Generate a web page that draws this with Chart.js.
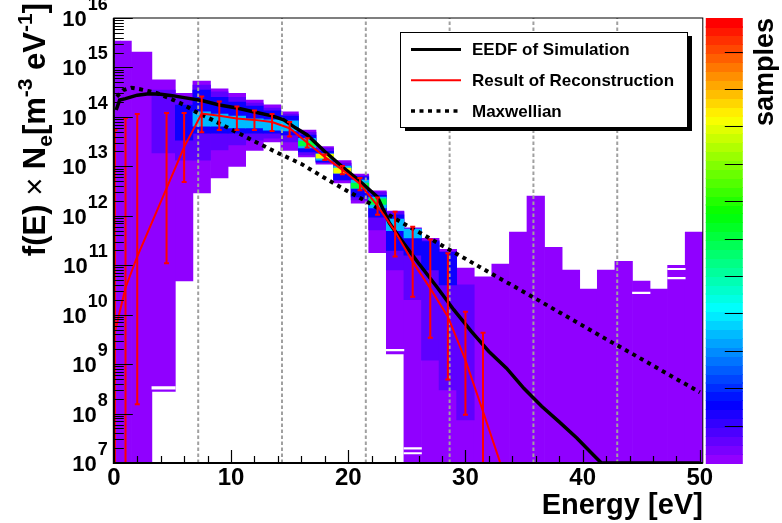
<!DOCTYPE html>
<html>
<head>
<meta charset="utf-8">
<script src="https://cdn.jsdelivr.net/npm/chart.js@4.4.1/dist/chart.umd.min.js"></script>
<style>
  html, body { margin: 0; padding: 0; background: #fff; }
  #wrap { width: 782px; height: 523px; }
</style>
</head>
<body>
<div id="wrap"><canvas id="eedfChart" width="782" height="523"></canvas></div>
<script>
// 2D histogram of the sampled reconstructions: column centres in eV
const columnE = [0.1, 1.0, 2.0, 4.5, 6.0, 7.5, 9.0, 10.5, 12.0, 13.5, 15.0, 16.5, 18.0, 19.5, 21.0, 22.5, 24.0,
  25.5, 27.0, 28.5, 30.0, 31.5, 33.0, 34.5, 36.0, 37.5, 39.0, 40.5, 42.0, 43.5, 45.0, 46.5, 48.0, 49.5];
const columnTop = [3.4e15, 3.4e15, 2.05e15, 5.6e14, 3.0e14, 5.3e14, 3.7e14, 3.0e14, 2.2e14, 1.75e14, 1.26e14,
  5.4e13, 2.5e13, 1.3e13, 7.0e12, 3.2e12, 1.25e12, 5.7e11, 3.5e11, 2.1e11, 8.8e10, 5.8e10, 1.06e11, 4.7e11,
  2.5e12, 2.3e11, 8.0e10, 3.3e10, 8.0e10, 1.2e11, 4.8e10, 3.3e10, 1.0e11, 4.7e11];
const columnBottom = [1e6, 1e6, 1e6, 2.8e8, 4.8e10, 2.9e12, 5.8e12, 1.0e13, 2.1e13, 3.1e13, 2.1e13, 1.55e13,
  1.1e13, 4.6e12, 1.8e12, 1.8e11, 1.6e9, 1e6, 1e6, 1e6, 1e6, 1e6, 1e6, 1e6, 1e6, 1e6, 1e6, 1e6, 1e6, 1e6,
  1e6, 1e6, 1e6, 1e6];

// denser cells, [E, low, high]
const midCells = [[4.5, 1.86e13, 3.5e14], [6.0, 1.34e13, 2.4e14], [7.5, 1.34e13, 4.4e14], [9.0, 2.14e13, 3.2e14],
  [10.5, 2.7e13, 2.5e14], [12.0, 3.4e13, 1.9e14], [13.5, 3.7e13, 1.5e14], [15.0, 3.1e13, 1.14e14],
  [16.5, 1.7e13, 4.9e13], [18.0, 1.22e13, 2.35e13], [19.5, 5.3e12, 1.17e13], [21.0, 2.1e12, 6.4e12],
  [22.5, 5.2e11, 3.0e12], [24.0, 8.0e10, 1.2e12], [25.5, 2.0e10, 5.4e11], [27.0, 1.2e9, 3.2e11],
  [28.5, 3.0e8, 1.85e11], [30.0, 7.4e7, 4.0e10]];
const blueCells = [[6.0, 3.4e13, 1.74e14], [7.5, 4.7e13, 3.5e14], [9.0, 4.7e13, 2.5e14], [10.5, 4.7e13, 2.0e14],
  [12.0, 4.7e13, 1.66e14], [13.5, 4.7e13, 1.32e14], [15.0, 4.3e13, 1.04e14], [16.5, 1.95e13, 4.3e13],
  [18.0, 1.22e13, 2.0e13], [19.5, 5.3e12, 1.01e13], [21.0, 2.4e12, 6.1e12], [22.5, 9.4e11, 2.6e12],
  [24.0, 2.0e11, 1.04e12], [25.5, 1.6e11, 5.4e11], [27.0, 8.0e10, 3.0e11], [28.5, 4.0e10, 1.85e11]];
const cyanCells = [[7.5, 6.5e13, 1.26e14], [9.0, 6.5e13, 1.14e14], [10.5, 6.0e13, 1.04e14], [12.0, 6.0e13, 9.1e13],
  [13.5, 5.4e13, 8.7e13], [15.0, 5.2e13, 8.3e13], [16.5, 2.35e13, 3.7e13], [18.0, 1.34e13, 1.8e13],
  [19.5, 7.3e12, 1.01e13], [21.0, 3.6e12, 5.3e12], [22.5, 1.44e12, 2.4e12], [24.0, 5.0e11, 8.6e11],
  [25.5, 3.55e11, 5.4e11]];
const greenCells = [[16.5, 2.6e13, 3.25e13], [21.0, 3.6e12, 4.6e12], [22.5, 1.7e12, 2.2e12]];
const yellowCells = [[18.0, 1.47e13, 1.77e13], [19.5, 7.3e12, 9.2e12]];
const emptyCells = [[4.5, 3.1e8, 3.5e8], [24.0, 1.85e9, 2.0e9], [25.5, 1.9e7, 2.05e7], [25.5, 1.52e7, 1.62e7],
  [45.0, 2.65e10, 2.85e10], [48.0, 8.1e10, 8.7e10], [48.0, 5.3e10, 5.7e10]];

// EEDF of the simulation
const eedfE = [0.2, 0.5, 1, 2, 3, 4, 5, 6, 7.5, 9, 10.5, 12, 13.5, 14.5, 15.5, 16.5, 18, 19.5, 21, 22.5, 23.5,
  24.5, 26, 27.5, 29, 30.5, 32, 33.5, 35, 36.5, 38, 39.5, 41, 41.6, 44, 47, 50];
const eedfValue = [1.38e14, 2.19e14, 2.34e14, 2.75e14, 2.95e14, 2.88e14, 2.69e14, 2.45e14, 2.14e14, 1.74e14,
  1.51e14, 1.26e14, 1.05e14, 8.7e13, 6.0e13, 4.3e13, 2.0e13, 9.8e12, 5.0e12, 2.4e12, 7.2e11, 3.3e11, 1.1e11,
  3.8e10, 1.26e10, 4.6e9, 1.8e9, 8.3e8, 3.2e8, 1.4e8, 6.8e7, 3.2e7, 1.38e7, 1e7, 1e7, 1e7, 1e7];

// reconstruction with error bars
const recoE = [0.1, 1.0, 2.0, 4.5, 6.0, 7.5, 9.0, 10.5, 12.0, 13.5, 15.0, 16.5, 18.0, 19.5, 21.0, 22.5, 24.0,
  25.5, 27.0, 28.5, 30.0, 31.5, 33.0];
const recoValue = [4.5e9, 3.5e10, 1.5e11, 3.6e12, 2.45e13, 1.17e14, 1.05e14, 9.3e13, 8.7e13, 7.9e13, 5.9e13,
  3.0e13, 1.55e13, 8.5e12, 4.4e12, 1.58e12, 4.8e11, 1.17e11, 3.4e10, 9.1e9, 1.2e9, 1.1e8, 9.6e6];
const recoHigh = [5.4e13, 9.5e13, 1.15e14, 1.2e14, 1.2e14, 2.57e14, 2.04e14, 1.62e14, 1.35e14, 1.15e14, 7.9e13,
  3.7e13, 1.74e13, 1.02e13, 5.8e12, 2.34e12, 1.2e12, 6.0e11, 3.3e11, 1.74e11, 1.15e10, 4.3e9, null];
const recoLow = [1e6, 1e6, 1.55e8, 1.1e11, 4.8e12, 4.9e13, 5.4e13, 5.4e13, 5.4e13, 5.2e13, 4.0e13, 2.4e13,
  1.35e13, 6.9e12, 3.3e12, 1.05e12, 1.5e11, 2.3e10, 3.4e9, 4.9e8, 9.5e7, 1e6, null];

// Maxwellian
const maxwE = [0.25, 0.8, 1.5, 2.25, 3, 3.7, 4.4, 5.1, 6, 7, 8.5, 10, 12, 14, 16, 18, 20, 22, 24, 26, 28, 30,
  32, 34, 36, 38, 40, 42, 44, 46, 48, 50];
const maxwValue = [2.57e14, 3.47e14, 3.89e14, 3.63e14, 3.31e14, 3.02e14, 2.57e14, 2.19e14, 1.74e14, 1.26e14,
  8.5e13, 5.6e13, 3.2e13, 1.86e13, 1.12e13, 5.8e12, 3.1e12, 1.7e12, 8.7e11, 4.7e11, 2.5e11, 1.35e11, 7.2e10,
  3.9e10, 2.1e10, 1.12e10, 6.0e9, 3.2e9, 1.74e9, 9.3e8, 5.0e8, 2.7e8];

// grey dashed marker lines
const markerE = [0, 7.2, 14.35, 21.5, 28.65, 35.8, 42.95];

const FONT = "'Liberation Sans', Arial, sans-serif";
const RED = '#ff0000';
const hue = (h) => `hsl(${h}, 100%, 50%)`;

// split cells so that every dataset holds at most one cell per column
function cellLayers(cells) {
  const layers = [];
  cells.forEach(c => {
    let layer = layers.find(l => !l.some(d => d[0] === c[0]));
    if (!layer) { layer = []; layers.push(layer); }
    layer.push(c);
  });
  return layers;
}

function heatDatasets(label, cells, color, order) {
  return cellLayers(cells).map(layer => ({
    type: 'bar',
    label,
    data: columnE.map(x => {
      const c = layer.find(d => d[0] === x);
      return { x, y: c ? [c[1], c[2]] : null };
    }),
    backgroundColor: color,
    borderWidth: 0,
    barThickness: 'flex',
    categoryPercentage: 1,
    barPercentage: 1,
    stack: 'heat',
    order
  }));
}

const purpleCells = columnE.map((e, i) => [e, columnBottom[i], columnTop[i]]);

const datasets = [
  {
    type: 'line', label: 'Result of Reconstruction',
    data: recoE.map((x, i) => ({ x, y: recoValue[i] })),
    borderColor: RED, borderWidth: 2, pointRadius: 0, tension: 0, order: 1, legendLine: 2
  },
  {
    type: 'line', label: 'EEDF of Simulation',
    data: eedfE.map((x, i) => ({ x, y: eedfValue[i] })),
    borderColor: '#000', borderWidth: 3.5, pointRadius: 0, tension: 0, order: 2, legendLine: 3
  },
  {
    type: 'line', label: 'Maxwellian',
    data: maxwE.map((x, i) => ({ x, y: maxwValue[i] })),
    borderColor: '#000', borderWidth: 4, borderDash: [4, 4.5], borderCapStyle: 'butt',
    pointRadius: 0, tension: 0, order: 3, legendLine: 3.5
  },
  {
    type: 'line', label: 'markers',
    data: markerE.flatMap(e => [{ x: e, y: 1e7 }, { x: e, y: 1e16 }, { x: e, y: null }]),
    borderColor: '#a0a0a0', borderWidth: 2, borderDash: [3.5, 2.5], pointRadius: 0, spanGaps: false, order: 4
  },
  ...heatDatasets('empty', emptyCells, '#ffffff', 5),
  ...heatDatasets('yellow', yellowCells, hue(64), 6),
  ...heatDatasets('green', greenCells, hue(135), 7),
  ...heatDatasets('cyan', cyanCells, hue(196), 8),
  ...heatDatasets('blue', blueCells, hue(243), 9),
  ...heatDatasets('mid', midCells, hue(262), 10),
  ...heatDatasets('samples', purpleCells, hue(274), 11)
];

function drawPieces(ctx, pieces, x, y) {
  let cx = x;
  pieces.forEach(p => {
    ctx.font = `${p.weight || 'bold'} ${p.size}px ${FONT}`;
    ctx.fillText(p.t, cx, y + (p.dy || 0));
    cx += ctx.measureText(p.t).width + (p.gap || 0);
  });
  return cx - x;
}
function piecesWidth(ctx, pieces) {
  return pieces.reduce((w, p) => {
    ctx.font = `${p.weight || 'bold'} ${p.size}px ${FONT}`;
    return w + ctx.measureText(p.t).width + (p.gap || 0);
  }, 0);
}

const rootStyle = {
  id: 'rootStyle',
  afterDatasetsDraw(chart) {
    const { ctx, chartArea: a, scales: { x, y } } = chart;
    ctx.save();
    // error bars
    ctx.beginPath();
    ctx.rect(a.left, a.top, a.width, a.height);
    ctx.clip();
    ctx.strokeStyle = RED;
    ctx.lineWidth = 2;
    recoE.forEach((e, i) => {
      if (recoHigh[i] === null) return;
      const px = x.getPixelForValue(e);
      const top = Math.max(y.getPixelForValue(recoHigh[i]), a.top);
      const bottom = Math.min(y.getPixelForValue(recoLow[i]), a.bottom);
      ctx.beginPath();
      ctx.moveTo(px, top); ctx.lineTo(px, bottom);
      ctx.moveTo(px - 2.5, top); ctx.lineTo(px + 2.5, top);
      ctx.moveTo(px - 2.5, bottom); ctx.lineTo(px + 2.5, bottom);
      ctx.stroke();
    });
    ctx.restore();

    ctx.save();
    ctx.strokeStyle = '#000';
    // frame
    ctx.lineWidth = 1;
    ctx.strokeRect(a.left, a.top, a.width, a.height);
    ctx.lineWidth = 2;
    ctx.beginPath();
    ctx.moveTo(a.left, a.top); ctx.lineTo(a.left, a.bottom); ctx.lineTo(a.right, a.bottom);
    ctx.stroke();
    // log ticks on y, inside the frame
    ctx.lineWidth = 1.2;
    ctx.beginPath();
    for (let d = 7; d <= 16; d++) {
      for (let k = 1; k <= 9; k++) {
        const v = k * Math.pow(10, d);
        if (v > 1e16 * 1.0001) break;
        const py = Math.round(y.getPixelForValue(v)) + 0.5;
        ctx.moveTo(a.left, py);
        ctx.lineTo(a.left + (k === 1 ? 19 : 10), py);
      }
    }
    // linear ticks on x
    for (let v = 0; v <= 50; v += 2) {
      const px = Math.round(x.getPixelForValue(v)) + 0.5;
      ctx.moveTo(px, a.bottom);
      ctx.lineTo(px, a.bottom - (v % 10 === 0 ? 13 : 7));
    }
    ctx.stroke();
    ctx.restore();
  },
  afterDraw(chart) {
    const { ctx, chartArea: a, scales: { y, z } } = chart;
    ctx.save();
    ctx.fillStyle = '#000';
    ctx.textAlign = 'left';
    ctx.textBaseline = 'alphabetic';

    // y tick labels 10^n
    for (let d = 7; d <= 16; d++) {
      const py = y.getPixelForValue(Math.pow(10, d));
      const base = [{ t: '10', size: 22, gap: 1 }];
      const sup = [{ t: String(d), size: 18 }];
      const wb = piecesWidth(ctx, base), ws = piecesWidth(ctx, sup);
      const right = a.left - 6;
      drawPieces(ctx, base, right - ws - wb, py + 8);
      drawPieces(ctx, sup, right - ws, py - 8);
    }

    // x title
    ctx.font = `bold 29px ${FONT}`;
    ctx.textAlign = 'right';
    ctx.fillText('Energy [eV]', a.right, 514);

    // y title
    const yTitle = [
      { t: 'f(E) ', size: 31 },
      { t: '\u00d7', size: 31, weight: 'normal' },
      { t: ' N', size: 31 },
      { t: 'e', size: 21, dy: 7 },
      { t: '[m', size: 31 },
      { t: '-3', size: 21, dy: -13 },
      { t: ' eV', size: 31 },
      { t: '-1', size: 21, dy: -13 },
      { t: ']', size: 31 }
    ];
    ctx.textAlign = 'left';
    ctx.save();
    ctx.translate(45, 3);
    ctx.rotate(-Math.PI / 2);
    drawPieces(ctx, yTitle, -piecesWidth(ctx, yTitle), 0);
    ctx.restore();

    // colour palette bar
    const barL = a.right + 3, barW = 37, n = 50;
    const h = (a.bottom - a.top) / n;
    for (let i = 0; i < n; i++) {
      ctx.fillStyle = hue(280 - 5.6 * (i + 1));
      const top = a.bottom - (i + 1) * h;
      ctx.fillRect(barL, Math.floor(top), barW, Math.ceil(h) + 1);
    }
    ctx.strokeStyle = '#000';
    ctx.lineWidth = 1.2;
    ctx.beginPath();
    z.ticks.forEach(t => {
      if (t.value <= z.min || t.value >= z.max) return;
      const py = Math.round(z.getPixelForValue(t.value)) + 0.5;
      ctx.moveTo(barL + barW, py);
      ctx.lineTo(barL + barW - 18, py);
    });
    ctx.stroke();
    ctx.fillStyle = '#000';
    ctx.font = `bold 27px ${FONT}`;
    ctx.save();
    ctx.translate(773, a.top);
    ctx.rotate(-Math.PI / 2);
    ctx.textAlign = 'right';
    ctx.fillText('samples', 0, 0);
    ctx.restore();

    // legend box with shadow
    const lx = 400, ly = 32, lw = 287, lh = 95;
    ctx.fillStyle = '#000';
    ctx.fillRect(lx + 5, ly + 4, lw, lh);
    ctx.fillStyle = '#fff';
    ctx.fillRect(lx, ly, lw, lh);
    ctx.strokeStyle = '#000';
    ctx.lineWidth = 1;
    ctx.strokeRect(lx + 0.5, ly + 0.5, lw, lh);
    const entries = ['EEDF of Simulation', 'Result of Reconstruction', 'Maxwellian']
      .map(l => chart.data.datasets.find(ds => ds.label === l));
    ctx.textAlign = 'left';
    ctx.textBaseline = 'middle';
    ctx.font = `bold 17px ${FONT}`;
    entries.forEach((ds, i) => {
      const ry = ly + 17.5 + i * 30.7;
      ctx.strokeStyle = ds.borderColor;
      ctx.lineWidth = ds.legendLine;
      ctx.setLineDash(ds.borderDash || []);
      ctx.beginPath();
      ctx.moveTo(lx + 11, ry);
      ctx.lineTo(lx + 61, ry);
      ctx.stroke();
      ctx.setLineDash([]);
      ctx.fillStyle = '#000';
      ctx.fillText(ds.label, lx + 72, ry + 1);
    });
    ctx.restore();
  }
};

new Chart(document.getElementById('eedfChart'), {
  type: 'bar',
  data: { datasets },
  options: {
    responsive: false,
    devicePixelRatio: 1,
    animation: false,
    events: [],
    layout: { padding: { left: 113.8, right: 79.2, top: 18, bottom: 0 } },
    plugins: { legend: { display: false }, tooltip: { enabled: false } },
    scales: {
      x: {
        type: 'linear',
        min: 0,
        max: 50.25,
        offset: false,
        grid: { display: false, drawTicks: false },
        border: { display: false },
        ticks: {
          stepSize: 10,
          includeBounds: false,
          autoSkip: false,
          maxRotation: 0,
          padding: 1,
          color: '#000',
          font: { family: FONT, size: 24, weight: 'bold' }
        },
        afterFit: (scale) => { scale.height = 60; }
      },
      y: {
        type: 'logarithmic',
        min: 1e7,
        max: 1e16,
        stacked: false,
        display: false
      },
      z: {
        type: 'linear',
        position: 'right',
        min: 0,
        max: 119,
        display: false,
        ticks: { stepSize: 10 }
      }
    }
  },
  plugins: [rootStyle]
});
</script>
</body>
</html>
